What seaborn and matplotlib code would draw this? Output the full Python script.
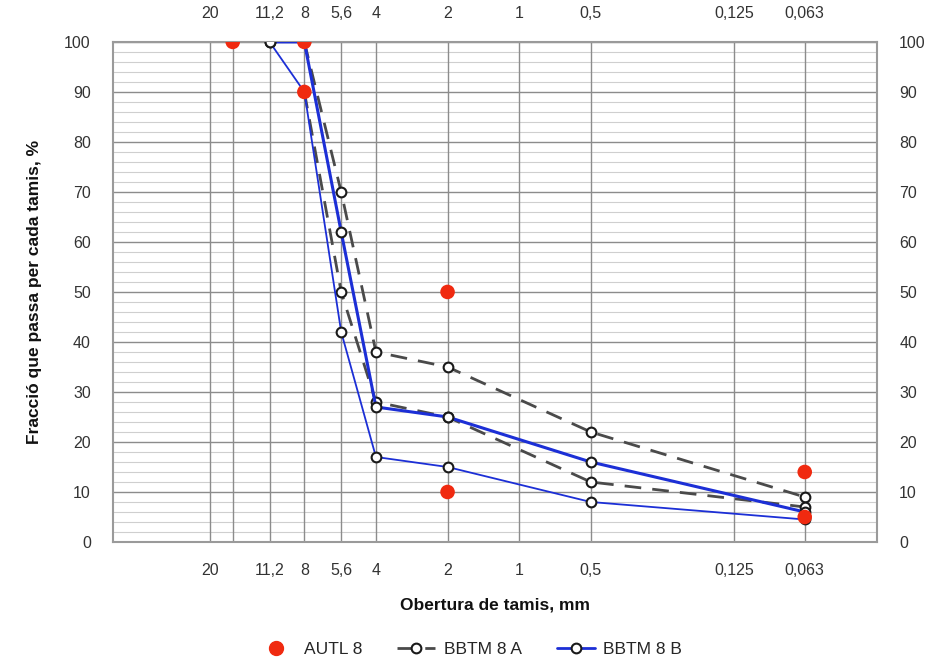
import matplotlib
matplotlib.use("Agg")
import matplotlib.pyplot as plt
import matplotlib.ticker as mticker
from matplotlib.lines import Line2D
import seaborn as sns

# dades (obertura en mm, % que passa)
autl_x = [16, 8, 8, 2, 2, 0.063, 0.063]
autl_y = [100, 100, 90, 50, 10, 14, 5]

bbtm_a_x = [8, 5.6, 4, 2, 0.5, 0.063]
bbtm_a_sup = [100, 70, 38, 35, 22, 9]
bbtm_a_inf = [90, 50, 28, 25, 12, 7]

bbtm_b_x = [11.2, 8, 5.6, 4, 2, 0.5, 0.063]
bbtm_b_sup = [100, 100, 62, 27, 25, 16, 6]
bbtm_b_inf = [100, 90, 42, 17, 15, 8, 4.5]

tamisos = [20, 16, 11.2, 8, 5.6, 4, 2, 1, 0.5, 0.125, 0.063]
etiquetes = ["20", "", "11,2", "8", "5,6", "4", "2", "1", "0,5", "0,125", "0,063"]

sns.set_theme(style="white")
plt.rcParams["font.family"] = ["Liberation Sans", "DejaVu Sans"]

fig = plt.figure(figsize=(9.3, 6.58), dpi=100)
ax = fig.add_axes([0.1215, 0.1763, 0.8215, 0.760])

ax.set_xscale("log", base=2)
ax.set_xlim(51, 0.0313)
ax.set_ylim(0, 100)

# graella
for y in range(0, 101, 2):
    if y % 10 == 0:
        ax.axhline(y, color="#8c8c8c", lw=1.0, zorder=0)
    else:
        ax.axhline(y, color="#cfcfcf", lw=0.8, zorder=0)
for t in tamisos:
    ax.axvline(t, color="#8c8c8c", lw=1.0, zorder=0)

estil_marc = dict(marker="o", markersize=7, markerfacecolor="white",
                  markeredgecolor="#1a1a1a", markeredgewidth=1.5)

sns.lineplot(x=bbtm_a_x, y=bbtm_a_sup, ax=ax, color="#4a4a4a", lw=2,
             linestyle=(0, (6, 4)), sort=False, zorder=3, **estil_marc)
sns.lineplot(x=bbtm_a_x, y=bbtm_a_inf, ax=ax, color="#4a4a4a", lw=2,
             linestyle=(0, (6, 4)), sort=False, zorder=3, **estil_marc)
sns.lineplot(x=bbtm_b_x, y=bbtm_b_sup, ax=ax, color="#1c2fd6", lw=2.2,
             sort=False, zorder=4, **estil_marc)
sns.lineplot(x=bbtm_b_x, y=bbtm_b_inf, ax=ax, color="#1c2fd6", lw=1.3,
             sort=False, zorder=4, **estil_marc)
sns.scatterplot(x=autl_x, y=autl_y, ax=ax, color="#f02a10", s=110,
                edgecolor="none", zorder=5)

ax.xaxis.set_major_locator(mticker.FixedLocator(tamisos))
ax.xaxis.set_major_formatter(mticker.FixedFormatter(etiquetes))
ax.xaxis.set_minor_locator(mticker.NullLocator())
ax.set_yticks(range(0, 101, 10))
ax.tick_params(axis="x", which="both", top=False, bottom=False,
               labeltop=True, labelbottom=True, labelsize=11.5,
               colors="#333333", pad=9)
ax.tick_params(axis="y", left=False, right=False, labelleft=True,
               labelright=True, labelsize=11.5, colors="#333333", pad=10)

for s in ax.spines.values():
    s.set_color("#9a9a9a")
    s.set_linewidth(1.5)

ax.set_xlabel("Obertura de tamis, mm", fontsize=12.5, fontweight="bold",
              color="#111111", labelpad=14)
ax.set_ylabel("Fracció que passa per cada tamis, %", fontsize=12.5,
              fontweight="bold", color="#111111", labelpad=16)

handles = [
    Line2D([], [], color="#f02a10", marker="o", linestyle="none", markersize=10),
    Line2D([], [], color="#4a4a4a", lw=2, linestyle=(0, (6, 4)), **estil_marc),
    Line2D([], [], color="#1c2fd6", lw=2, **estil_marc),
]
fig.legend(handles, ["AUTL 8", "BBTM 8 A", "BBTM 8 B"], loc="lower center",
           bbox_to_anchor=(0.505, -0.022), ncol=3, frameon=False,
           fontsize=12.5, handlelength=2.2, handletextpad=0.5,
           columnspacing=2.0)

fig.savefig("out.png", dpi=100)
